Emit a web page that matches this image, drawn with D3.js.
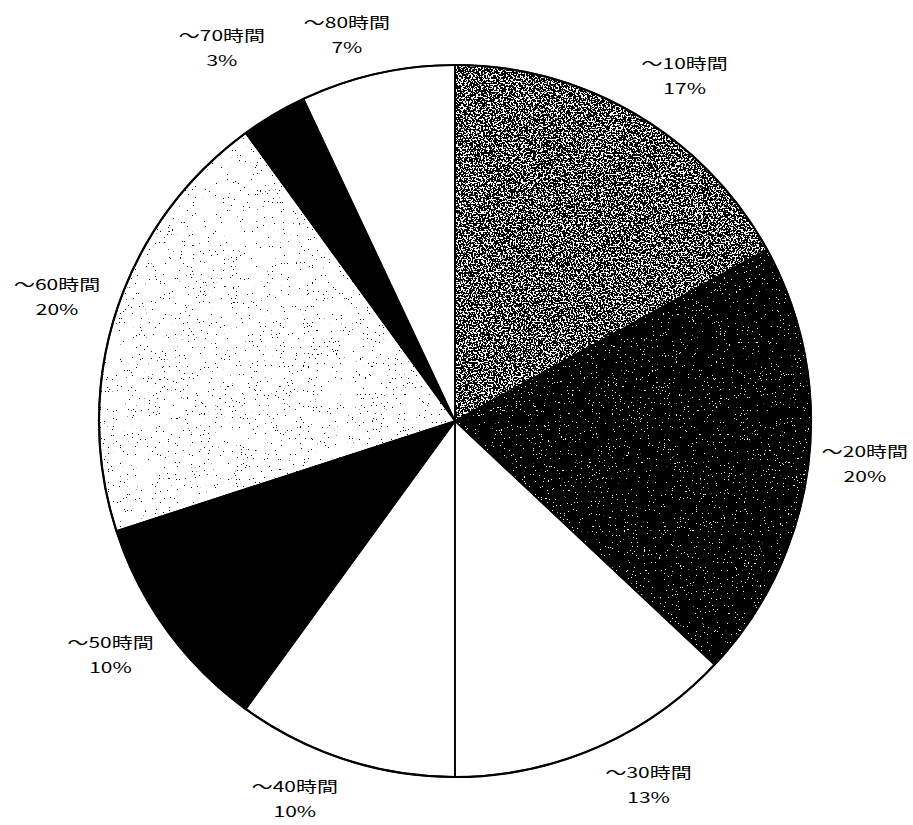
<!DOCTYPE html>
<html>
<head>
<meta charset="utf-8">
<script src="https://cdn.jsdelivr.net/npm/d3@7"></script>
<style>
  html, body { margin: 0; padding: 0; background: #fff; }
  svg { display: block; }
  text { font-family: "Noto Sans CJK JP", "Noto Sans", sans-serif; fill: #000; }
</style>
</head>
<body>
<svg id="chart" width="913" height="825"></svg>
<script>
// Hours-per-month bands and their share of respondents
const categories = ["～10時間", "～20時間", "～30時間", "～40時間", "～50時間", "～60時間", "～70時間", "～80時間"];
const shares = [17, 20, 13, 10, 10, 20, 3, 7];
const shareLabels = ["17%", "20%", "13%", "10%", "10%", "20%", "3%", "7%"];

// Fill style per slice: solid colours or a screened (dithered) tone
const fills = [
  { kind: "dither", threshold: 0.53, freq: 0.6, octaves: 2 },   // mid grey screen
  { kind: "dither", threshold: 0.72, freq: 0.75, octaves: 2 },  // near-black with white specks
  { kind: "solid", color: "#fff" },
  { kind: "solid", color: "#fff" },
  { kind: "solid", color: "#000" },
  { kind: "dither", threshold: 0.245, freq: 0.75, octaves: 2 }, // white with sparse black dots
  { kind: "solid", color: "#000" },
  { kind: "solid", color: "#fff" }
];

// Label placement: distance from centre and small angular nudges (degrees)
const labelRadius = [415, 412, 411, 410, 416, 417, 441, 402];
const labelNudge = [3, -1.4, -4.7, 5, 1.9, -0.6, -1.3, -3];

const cx = 455, cy = 421, R = 356;

const svg = d3.select("#chart");
const defs = svg.append("defs");

// Binary noise screens built from turbulence, clipped to each slice shape
fills.forEach((f, i) => {
  if (f.kind !== "dither") return;
  const t = f.threshold, k = 60;
  const flt = defs.append("filter")
    .attr("id", "screen" + i)
    .attr("filterUnits", "userSpaceOnUse")
    .attr("x", -R - 4).attr("y", -R - 4).attr("width", 2 * R + 8).attr("height", 2 * R + 8)
    .attr("color-interpolation-filters", "sRGB");
  flt.append("feTurbulence")
    .attr("type", "fractalNoise")
    .attr("baseFrequency", f.freq)
    .attr("numOctaves", f.octaves)
    .attr("seed", 7 + i)
    .attr("result", "noise");
  flt.append("feColorMatrix")
    .attr("in", "noise")
    .attr("type", "matrix")
    .attr("values", "1 0 0 0 0  1 0 0 0 0  1 0 0 0 0  0 0 0 0 1")
    .attr("result", "grey");
  const ct = flt.append("feComponentTransfer").attr("in", "grey").attr("result", "bw");
  ["feFuncR", "feFuncG", "feFuncB"].forEach(fn =>
    ct.append(fn).attr("type", "linear").attr("slope", k).attr("intercept", -k * t));
  flt.append("feComposite")
    .attr("in", "bw").attr("in2", "SourceGraphic").attr("operator", "in");
});

const pie = d3.pie().sort(null).value(d => d).startAngle(0).endAngle(2 * Math.PI);
const arcs = pie(shares);
const arc = d3.arc().innerRadius(0).outerRadius(R);

const g = svg.append("g").attr("transform", `translate(${cx},${cy})`);

// Slices
g.selectAll("path.slice")
  .data(arcs)
  .join("path")
  .attr("class", "slice")
  .attr("d", arc)
  .attr("fill", (d, i) => fills[i].kind === "solid" ? fills[i].color : "#000")
  .attr("filter", (d, i) => fills[i].kind === "dither" ? `url(#screen${i})` : null);

// Slice outlines
g.selectAll("path.edge")
  .data(arcs)
  .join("path")
  .attr("class", "edge")
  .attr("d", arc)
  .attr("fill", "none")
  .attr("stroke", "#000")
  .attr("stroke-width", 1.6)
  .attr("stroke-linejoin", "round");

g.append("circle")
  .attr("r", R)
  .attr("fill", "none")
  .attr("stroke", "#000")
  .attr("stroke-width", 2.2);

// Labels: category on the first line, share below
const labels = g.selectAll("g.label")
  .data(arcs)
  .join("g")
  .attr("class", "label")
  .attr("transform", (d, i) => {
    const a = (d.startAngle + d.endAngle) / 2 + labelNudge[i] * Math.PI / 180;
    const r = labelRadius[i];
    return `translate(${r * Math.sin(a)},${-r * Math.cos(a)}) scale(1.4,1)`;
  });

labels.append("text")
  .attr("text-anchor", "middle")
  .attr("y", -6)
  .attr("font-size", 15)
  .text((d, i) => categories[i]);

labels.append("text")
  .attr("text-anchor", "middle")
  .attr("y", 19)
  .attr("font-size", 15)
  .text((d, i) => shareLabels[i]);
</script>
</body>
</html>
